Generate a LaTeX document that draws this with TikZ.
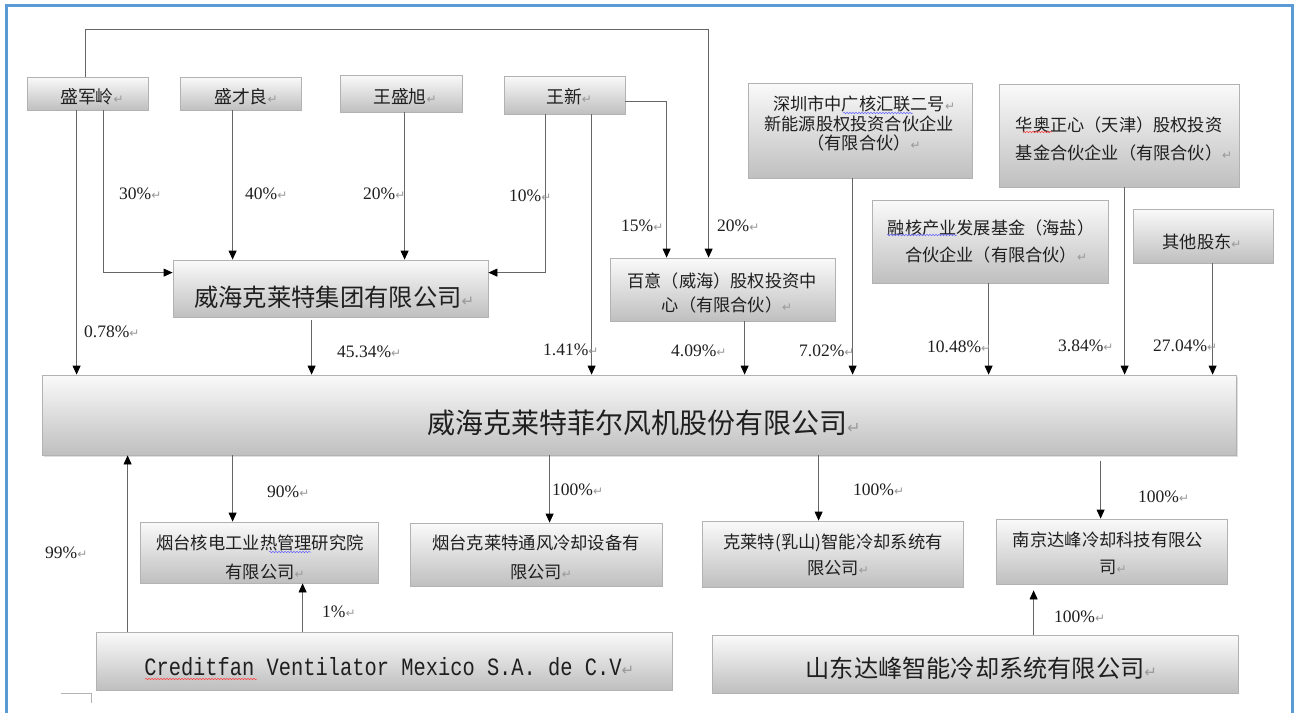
\documentclass[tikz,border=0pt]{standalone}
\usepackage{fontspec}
\usepackage{xcolor}
\usepackage{graphicx}
\setmainfont{Liberation Serif}
\newfontfamily\cjk{Noto Sans CJK SC}
\newfontfamily\retfont{DejaVu Sans}
\newfontfamily\cfmono{Liberation Mono}
\usetikzlibrary{arrows.meta,calc,decorations.pathmorphing,shadows}
\definecolor{frameblue}{RGB}{91,155,213}
\newcommand\rmk[1][12]{\rlap{\textcolor{black!40}{\retfont\fontsize{#1}{#1}\selectfont ↵}}}
\begin{document}
\begin{tikzpicture}[x=1pt,y=-1pt,
  box/.style={rectangle, draw=black!30, line width=0.8pt, top color=black!2, bottom color=black!25, inner sep=0pt},
  txt/.style={align=center, text=black!88, inner sep=0pt},
  pct/.style={anchor=west, inner sep=0pt, text=black!88, font=\fontsize{17.5}{17.5}\selectfont},
  arr/.style={draw=black!60, line width=0.8pt, -{Triangle[length=9pt,width=8pt,color=black]}},
  wavyb/.style={draw=blue!60, line width=0.5pt, decorate, decoration={snake, amplitude=0.8pt, segment length=3pt}},
  wavyr/.style={draw=red!75, line width=0.5pt, decorate, decoration={snake, amplitude=0.8pt, segment length=3pt}}
]
\useasboundingbox (0,0) rectangle (1296,713);
\fill[white] (0,0) rectangle (1296,713);
\draw[frameblue, line width=3pt] (6,713) -- (6,5) -- (1292,5) -- (1292,713);
\draw[black!30, line width=0.6pt] (61,693) -- (91,693) -- (91,703);

% ---------- boxes ----------
\node[box, minimum width=121pt, minimum height=33pt] (sjl) at (87.5,93.5) {};
\node[box, minimum width=121pt, minimum height=33pt] (scl) at (240.5,93.5) {};
\node[box, minimum width=122pt, minimum height=37pt] (wsx) at (401,93.5) {};
\node[box, minimum width=121pt, minimum height=38pt] (wx) at (564.5,95) {};
\node[box, minimum width=224pt, minimum height=95pt] (sz) at (860,130.5) {};
\node[box, minimum width=240pt, minimum height=103pt] (ha) at (1119,135.5) {};
\node[box, minimum width=315pt, minimum height=57pt] (jt) at (330.5,288.5) {};
\node[box, minimum width=225pt, minimum height=63pt] (by) at (722.5,289.5) {};
\node[box, minimum width=236pt, minimum height=83pt] (rh) at (990,241.5) {};
\node[box, minimum width=140pt, minimum height=54pt] (qt) at (1203,236) {};
\node[box, minimum width=1194pt, minimum height=80pt, drop shadow={shadow xshift=2pt, shadow yshift=-2pt, opacity=0.25}] (main) at (639,415) {};
\node[box, minimum width=238pt, minimum height=61pt] (ythd) at (259,552.5) {};
\node[box, minimum width=252pt, minimum height=63pt] (ytk) at (536,554.5) {};
\node[box, minimum width=261pt, minimum height=66pt] (rs) at (832.5,554) {};
\node[box, minimum width=231pt, minimum height=65pt] (nj) at (1111.5,551.5) {};
\node[box, minimum width=576pt, minimum height=58pt] (cf) at (384,661) {};
\node[box, minimum width=526pt, minimum height=58pt] (sd) at (975,664) {};

% ---------- box texts ----------
\node[txt, font=\cjk\fontsize{17.8}{20}\selectfont] (sjl-t) at (87,97) {盛军岭\rmk};
\node[txt, font=\cjk\fontsize{17.8}{20}\selectfont] (scl-t) at (241,97) {盛才良\rmk};
\node[txt, font=\cjk\fontsize{17.8}{20}\selectfont] (wsx-t) at (400,97) {王盛旭\rmk};
\node[txt, font=\cjk\fontsize{17.8}{20}\selectfont] (wx-t) at (564,97) {王新\rmk};
\node[txt, font=\cjk\fontsize{17.2}{19.5}\selectfont] (sz-t) at (859,124) {深圳市中广核汇联二号\rmk\\新能源股权投资合伙企业\\（有限合伙）\rmk};
\node[txt, font=\cjk\fontsize{17.2}{28}\selectfont] (ha-t) at (1119,139) {华奥正心（天津）股权投资\\基金合伙企业（有限合伙）\rmk};
\node[txt, font=\cjk\fontsize{24.3}{28}\selectfont] (jt-t) at (328,297) {威海克莱特集团有限公司\rmk[15]};
\node[txt, font=\cjk\fontsize{17.2}{24}\selectfont] (by-t) at (722,293) {百意（威海）股权投资中\\心（有限合伙）\rmk};
\node[txt, font=\cjk\fontsize{17.2}{27}\selectfont] (rh-t) at (991,241.5) {融核产业发展基金（海盐）\\合伙企业（有限合伙）\rmk};
\node[txt, font=\cjk\fontsize{17.2}{20}\selectfont] (qt-t) at (1197,242) {其他股东\rmk};
\node[txt, font=\cjk\fontsize{28}{30}\selectfont] (main-t) at (637,423) {威海克莱特菲尔风机股份有限公司\rmk[16]};
\node[txt, font=\cjk\fontsize{17.3}{29}\selectfont] (ythd-t) at (260,557.5) {烟台核电工业热管理研究院\\有限公司\rmk};
\node[txt, font=\cjk\fontsize{17.3}{29}\selectfont] (ytk-t) at (536,557.5) {烟台克莱特通风冷却设备有\\限公司\rmk};
\node[txt, font=\cjk\fontsize{17.3}{26}\selectfont] (rs-t) at (833,555) {克莱特(乳山)智能冷却系统有\\限公司\rmk};
\node[txt, font=\cjk\fontsize{17.3}{27}\selectfont] (nj-t) at (1108,553.5) {南京达峰冷却科技有限公\\司\rmk};
\node[txt, font=\cfmono\fontsize{20.4}{22}\selectfont] (cf-t) at (383,667) {\scalebox{1}[1.22]{Creditfan Ventilator Mexico S.A. de C.V}\rmk[15]};
\node[txt, font=\cjk\fontsize{24.2}{26}\selectfont] (sd-t) at (975,668) {山东达峰智能冷却系统有限公司\rmk[15]};

% spell-check underlines
\draw[wavyb] (843,113) -- (913,113);
\draw[wavyr] (1023,132) -- (1052,132);
\draw[wavyb] (887,235) -- (957,235);
\draw[wavyb] (269,552) -- (311,552);
\draw[wavyr] (145,679) -- (257,679);

% ---------- connectors ----------
\coordinate (a1) at ($(sjl.north west)+(59,0)$);
\coordinate (a2) at ($(by.north west)+(99,0)$);
\draw[arr] (a1) -- ++(0,-47) -| (a2);

\coordinate (b1) at ($(sjl.south west)+(50,0)$);
\draw[arr] (b1) -- (b1 |- main.north);

\coordinate (c1) at ($(sjl.south west)+(77,0)$);
\coordinate (c2) at ($(jt.north west)+(0,13)$);
\draw[arr] (c1) |- (c2);

\coordinate (d1) at ($(scl.south west)+(53,0)$);
\draw[arr] (d1) -- (d1 |- jt.north);

\coordinate (e1) at ($(wsx.south west)+(65,0)$);
\draw[arr] (e1) -- (e1 |- jt.north);

\coordinate (f1) at ($(wx.south west)+(42,0)$);
\coordinate (f2) at ($(jt.north east)+(0,13)$);
\draw[arr] (f1) |- (f2);

\coordinate (g1) at ($(wx.south west)+(88,0)$);
\draw[arr] (g1) -- (g1 |- main.north);

\coordinate (h1) at ($(wx.north east)+(0,26)$);
\coordinate (h2) at ($(by.north west)+(57,0)$);
\draw[arr] (h1) -| (h2);

\coordinate (i1) at ($(jt.south west)+(139,3)$);
\draw[arr] (i1) -- (i1 |- main.north);

\coordinate (j1) at ($(by.south west)+(135,0)$);
\draw[arr] (j1) -- (j1 |- main.north);
\coordinate (k1) at ($(sz.south west)+(105,0)$);
\draw[arr] (k1) -- (k1 |- main.north);
\coordinate (l1) at ($(rh.south west)+(117,0)$);
\draw[arr] (l1) -- (l1 |- main.north);
\coordinate (n1) at ($(ha.south west)+(126,0)$);
\draw[arr] (n1) -- (n1 |- main.north);
\coordinate (o1) at ($(qt.south west)+(80,0)$);
\draw[arr] (o1) -- (o1 |- main.north);

\coordinate (m1) at ($(ythd.north west)+(93,0)$);
\draw[arr] (m1 |- main.south) -- (m1);
\coordinate (m2) at ($(ytk.north west)+(140,0)$);
\draw[arr] (m2 |- main.south) -- (m2);
\coordinate (m3) at ($(rs.north west)+(117,0)$);
\draw[arr] (m3 |- main.south) -- (m3);
\coordinate (m4) at ($(nj.north west)+(105,0)$);
\coordinate (m4s) at (m4 |- main.south);
\draw[arr] ($(m4s)+(0,6)$) -- (m4);

\coordinate (u1) at ($(cf.north west)+(32,0)$);
\draw[arr] (u1) -- (u1 |- main.south);
\coordinate (u2) at ($(cf.north west)+(207,0)$);
\draw[arr] (u2) -- (u2 |- ythd.south);
\coordinate (u3) at ($(sd.north west)+(322,0)$);
\coordinate (u3s) at (u3 |- nj.south);
\draw[arr] (u3) -- ($(u3s)+(0,6)$);

% ---------- percentage labels ----------
\node[pct] (p1) at (119,194) {30\%\rmk};
\node[pct] (p2) at (245,194) {40\%\rmk};
\node[pct] (p3) at (363,194) {20\%\rmk};
\node[pct] (p4) at (509,196) {10\%\rmk};
\node[pct] (p5) at (621,226) {15\%\rmk};
\node[pct] (p6) at (717,226) {20\%\rmk};
\node[pct] (p7) at (84,332) {0.78\%\rmk};
\node[pct] (p8) at (337,352) {45.34\%\rmk};
\node[pct] (p9) at (543,350) {1.41\%\rmk};
\node[pct] (p10) at (671,351) {4.09\%\rmk};
\node[pct] (p11) at (799,351) {7.02\%\rmk};
\node[pct] (p12) at (927,347) {10.48\%\rmk};
\node[pct] (p13) at (1058,346) {3.84\%\rmk};
\node[pct] (p14) at (1153,346) {27.04\%\rmk};
\node[pct] (p15) at (267,492) {90\%\rmk};
\node[pct] (p16) at (552,490) {100\%\rmk};
\node[pct] (p17) at (45,553) {99\%\rmk};
\node[pct] (p18) at (322,612) {1\%\rmk};
\node[pct] (p19) at (853,490) {100\%\rmk};
\node[pct] (p20) at (1138,497) {100\%\rmk};
\node[pct] (p21) at (1054,617) {100\%\rmk};
\end{tikzpicture}
\end{document}
